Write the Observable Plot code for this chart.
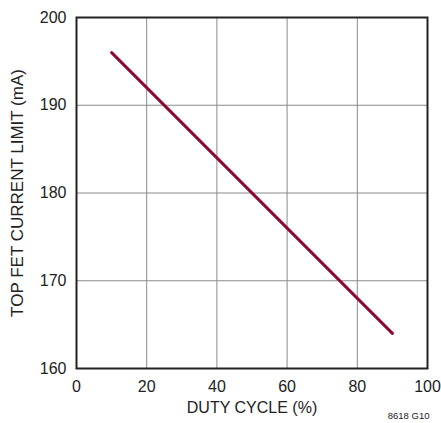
<!DOCTYPE html>
<html><head><meta charset="utf-8">
<script src="https://cdn.jsdelivr.net/npm/d3@7"></script>
<script src="https://cdn.jsdelivr.net/npm/@observablehq/plot@0.6"></script>
<style>
html,body{margin:0;padding:0;background:#fff;}
svg{display:block;}
</style></head>
<body><div id="chart"></div>
<script>
const dutyCycle = [10, 90];
const currentLimit = [196, 164];
const xTicks = [0, 20, 40, 60, 80, 100];
const yTicks = [160, 170, 180, 190, 200];
const xLabel = "DUTY CYCLE (%)";
const yLabel = "TOP FET CURRENT LIMIT (mA)";
const note = "8618 G10";

const data = dutyCycle.map((d, i) => ({x: d, y: currentLimit[i]}));
const font = "'Liberation Sans', Arial, sans-serif";

const chart = Plot.plot({
  width: 441, height: 423,
  marginLeft: 76, marginRight: 14, marginTop: 17, marginBottom: 55,
  style: {fontFamily: font, background: "#fff", color: "#222"},
  x: {domain: [0, 100]},
  y: {domain: [160, 200]},
  marks: [
    Plot.ruleX(xTicks, {stroke: "#8a8a8a", strokeWidth: 1}),
    Plot.ruleY(yTicks, {stroke: "#8a8a8a", strokeWidth: 1}),
    Plot.line(data, {x: "x", y: "y", stroke: "#8c0a32", strokeWidth: 3}),
    Plot.frame({stroke: "#222", strokeWidth: 2}),
    Plot.axisX(xTicks, {tickSize: 0, tickPadding: 12, fontSize: 16, label: null, fill: "#222"}),
    Plot.axisY(yTicks, {tickSize: 0, tickPadding: 10, fontSize: 16, label: null, fill: "#222"}),
    Plot.text([xLabel], {frameAnchor: "bottom", dy: 44, fontSize: 16, fill: "#222"}),
    Plot.text([yLabel], {frameAnchor: "left", dx: -59, rotate: -90, textAnchor: "middle", fontSize: 17, fill: "#222"}),
    Plot.text([note], {frameAnchor: "bottom-right", dy: 50, dx: 2, textAnchor: "end", fontSize: 9.5, fill: "#222"})
  ]
});
document.getElementById("chart").appendChild(chart);
</script></body></html>
